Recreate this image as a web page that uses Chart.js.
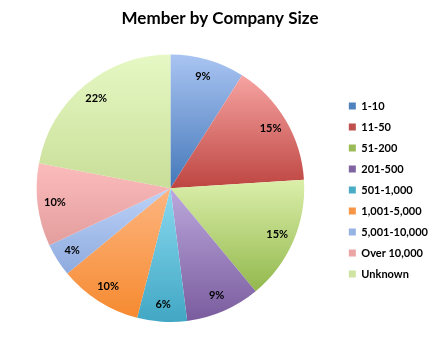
<!DOCTYPE html>
<html>
<head>
<meta charset="utf-8">
<script src="https://cdn.jsdelivr.net/npm/chart.js@4"></script>
<style>
  html, body { margin: 0; padding: 0; background: #fff; }
  #wrap { width: 438px; height: 346px; }
</style>
</head>
<body>
<div id="wrap"><canvas id="myChart" width="438" height="346"></canvas></div>
<script>
const labels = ["1-10", "11-50", "51-200", "201-500", "501-1,000", "1,001-5,000", "5,001-10,000", "Over 10,000", "Unknown"];
const shares = [9, 15, 15, 9, 6, 10, 4, 10, 22]; // percent of members
const baseColors = ["#4f81bd", "#c0504d", "#9bbb59", "#8064a2", "#4bacc6", "#f79646", "#95b3e3", "#eba5a5", "#cfe3a3"];
const topColors = ["#a9c4f2", "#f6a4a2", "#dbefaa", "#bba8dc", "#8ad9ef", "#fdb580", "#bcd2f7", "#fcbcbc", "#e6f8c4"];
const bottomColors = ["#4478b9", "#be4541", "#93b84d", "#7a5c9e", "#41a7c4", "#f68a30", "#8eaade", "#e39d9d", "#c9de98"];

// Excel-like vertical gradient for each slice
const sliceGradient = {
    id: 'sliceGradient',
    beforeDatasetsDraw(chart) {
        const ctx = chart.ctx;
        chart.getDatasetMeta(0).data.forEach((arc, i) => {
            const { x, y, startAngle, endAngle, outerRadius } = arc.getProps(['x', 'y', 'startAngle', 'endAngle', 'outerRadius'], true);
            const ys = [y, y + Math.sin(startAngle) * outerRadius, y + Math.sin(endAngle) * outerRadius];
            [-Math.PI / 2, Math.PI / 2, 3 * Math.PI / 2].forEach(a => {
                if (a > startAngle && a < endAngle) ys.push(y + Math.sin(a) * outerRadius);
            });
            const g = ctx.createLinearGradient(0, Math.min(...ys), 0, Math.max(...ys));
            g.addColorStop(0, topColors[i]);
            g.addColorStop(1, bottomColors[i]);
            arc.options = Object.assign({}, arc.options, { backgroundColor: g });
        });
    }
};

// percentage labels near the outer edge
const pctLabels = {
    id: 'pctLabels',
    afterDatasetsDraw(chart) {
        const ctx = chart.ctx;
        const total = shares.reduce((a, b) => a + b, 0);
        ctx.save();
        ctx.font = 'bold 11px Lato, sans-serif';
        ctx.fillStyle = '#000';
        ctx.textAlign = 'center';
        ctx.textBaseline = 'middle';
        chart.getDatasetMeta(0).data.forEach((arc, i) => {
            const { x, y, startAngle, endAngle, outerRadius } = arc.getProps(['x', 'y', 'startAngle', 'endAngle', 'outerRadius'], true);
            const mid = (startAngle + endAngle) / 2;
            const r = outerRadius * 0.87;
            ctx.fillText(Math.round(shares[i] / total * 100) + '%', x + Math.cos(mid) * r, y + Math.sin(mid) * r);
        });
        ctx.restore();
    }
};

new Chart(document.getElementById('myChart').getContext('2d'), {
    type: 'pie',
    data: {
        labels: labels,
        datasets: [{
            data: shares,
            backgroundColor: baseColors,
            borderWidth: 0
        }]
    },
    options: {
        responsive: false,
        animation: false,
        layout: { padding: { left: 2, right: 0, top: 0, bottom: 24 } },
        plugins: {
            title: {
                display: true,
                text: 'Member by Company Size',
                color: '#000',
                font: { family: 'Lato, sans-serif', size: 17, weight: 'bold' },
                padding: { top: 8, bottom: 26 }
            },
            legend: {
                position: 'right',
                title: {
                    display: true,
                    text: ' ',
                    font: { size: 1 },
                    padding: { top: 0, bottom: 57 }
                },
                labels: {
                    color: '#000',
                    boxWidth: 7,
                    boxHeight: 7,
                    padding: 10,
                    font: { family: 'Lato, sans-serif', size: 11, weight: 'bold' }
                }
            },
            tooltip: { enabled: false }
        }
    },
    plugins: [sliceGradient, pctLabels]
});
</script>
</body>
</html>
